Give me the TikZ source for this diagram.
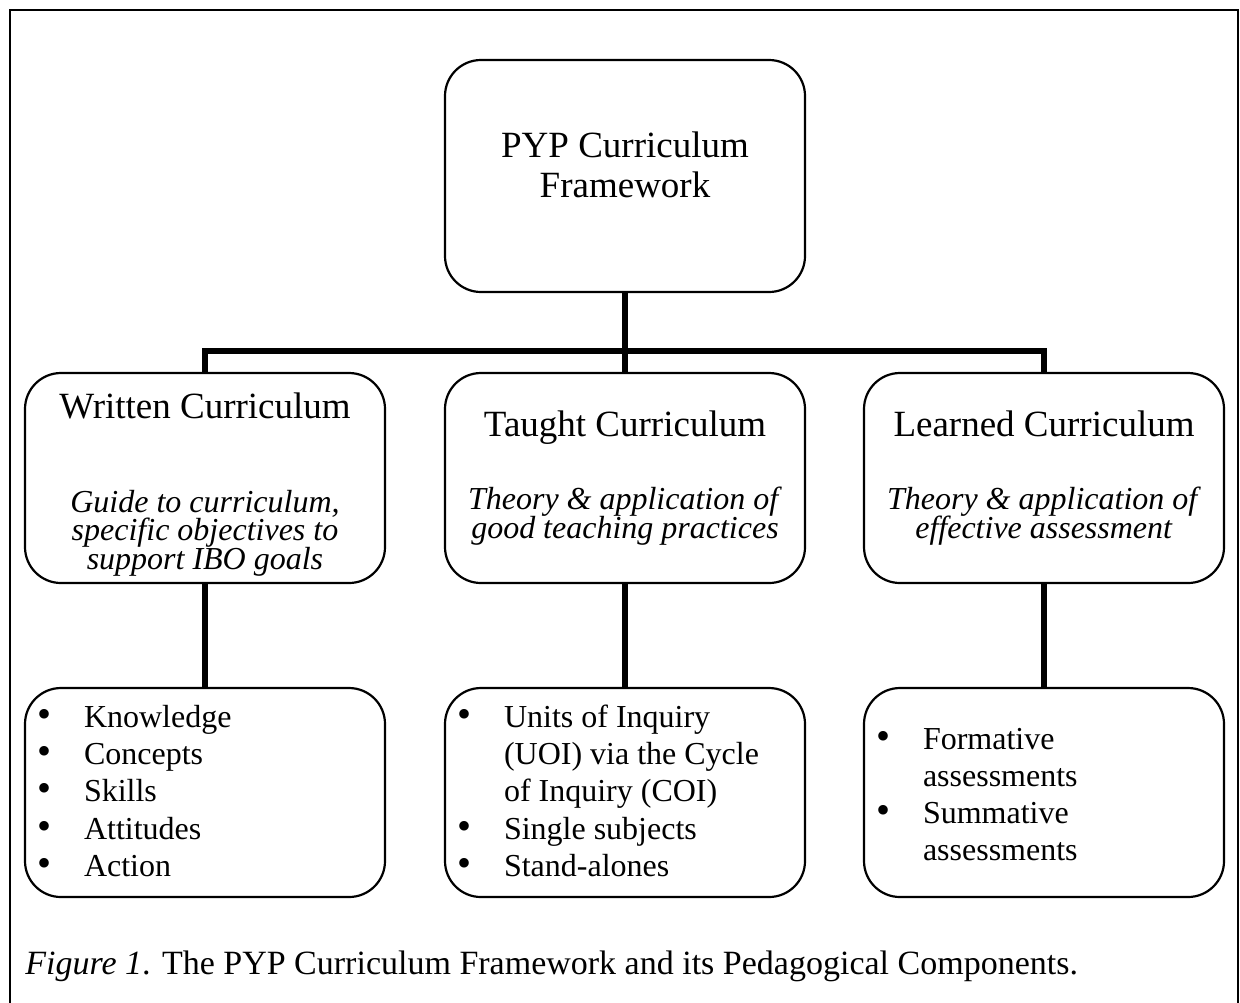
\documentclass[tikz,border=0pt]{standalone}
\usepackage{fontspec}
\setmainfont{Liberation Serif}
\usepackage{array}
\usetikzlibrary{positioning}
\newcommand{\headline}[1]{{\fontsize{18.5}{20}\selectfont #1}}
\newcommand{\listrows}{\lineskiplimit=0pt}
\newcommand{\blt}{{\fontsize{20}{18}\selectfont\textbullet}}
\tikzset{x=0.5pt,y=0.5pt,
    outerframe/.style={line width=1.2pt},
    roundbox/.style={draw,rounded corners=18pt,line width=1.1pt,minimum width=180pt},
    topbox/.style={roundbox,minimum height=116pt,align=center,
        font=\fontsize{18.5}{20}\selectfont},
    midbox/.style={roundbox,minimum height=105pt,align=center,
        font=\fontsize{16}{14.2}\selectfont},
    listbox/.style={roundbox,minimum height=104.5pt,inner xsep=6pt,
        font=\fontsize{16}{18.6}\selectfont},
    conn/.style={line width=2.7pt},
    figcaption/.style={anchor=base west,inner sep=0pt,
        font=\fontsize{17}{20}\selectfont}}

\begin{document}
\lineskiplimit=-20pt
\begin{tikzpicture}
\useasboundingbox (0,0) rectangle (1240,-1002);
\draw[outerframe] (10,-10) rectangle (1238,-1040);

\node[topbox] (top) at (625,-176)
    {PYP Curriculum\\Framework\rule[-11.5pt]{0pt}{11.5pt}};

\node[midbox] (written) at (205,-478)
    {\rule{0pt}{19pt}\headline{Written Curriculum}\\[33pt]
     \textit{Guide to curriculum,}\\\textit{specific objectives to}\\
     \textit{support IBO goals}};
\node[midbox] (taught) at (625,-478)
    {\headline{Taught Curriculum}\\[22.5pt]
     \textit{Theory \& application of}\\\textit{good teaching practices}};
\node[midbox] (learned) at (1044,-478)
    {\headline{Learned Curriculum}\\[22.5pt]
     \textit{Theory \& application of}\\\textit{effective assessment}};

\node[listbox] (writtenlist) at (205,-792.5)
    {\listrows\begin{tabular}{@{}p{23.5pt}@{}p{144.5pt}@{}}
     \blt & \rule{0pt}{15pt}Knowledge\\
     \blt & Concepts\\
     \blt & Skills\\
     \blt & Attitudes\\
     \blt & Action
     \end{tabular}};
\node[listbox] (taughtlist) at (625,-792.5)
    {\listrows\begin{tabular}{@{}p{23.5pt}@{}p{144.5pt}@{}}
     \blt & \rule{0pt}{15pt}Units of Inquiry\\
          & (UOI) via the Cycle\\
          & of Inquiry (COI)\\
     \blt & Single subjects\\
     \blt & Stand-alones
     \end{tabular}};
\node[listbox] (learnedlist) at (1044,-792.5)
    {\listrows\begin{tabular}{@{}p{23.5pt}@{}p{144.5pt}@{}}
     \blt & \rule{0pt}{18pt}Formative\\
          & assessments\\
     \blt & Summative\\
          & assessments
     \end{tabular}};

% tree lines
\coordinate (bar) at (625,-351);
\draw[conn] (top) -- (taught);
\draw[conn] (written.north) |- (bar) -| (learned.north);
\path
    (written) edge [conn] (writtenlist)
    (taught)  edge [conn] (taughtlist)
    (learned) edge [conn] (learnedlist);

\node[figcaption] (figcap) at (25,-974)
    {\textit{Figure 1}. The PYP Curriculum Framework and its Pedagogical Components.};
\end{tikzpicture}
\end{document}
